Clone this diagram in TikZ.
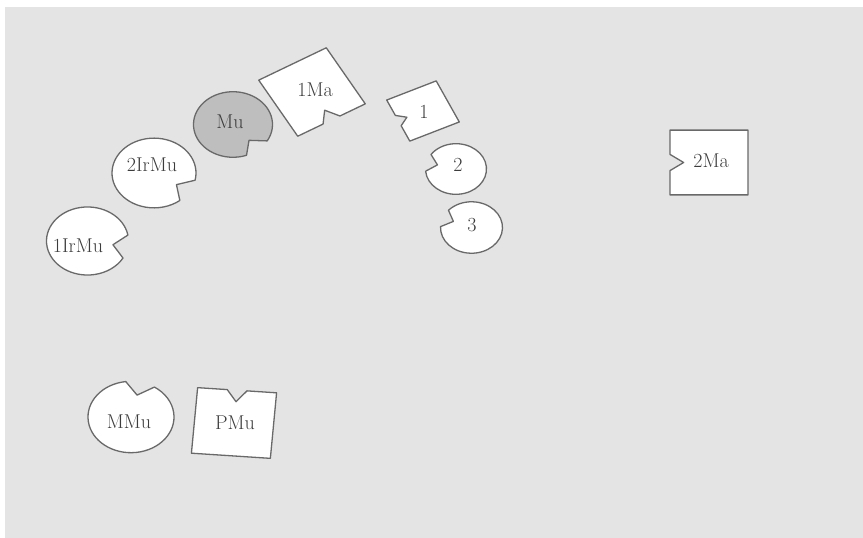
\documentclass[tikz,border=0pt]{standalone}
\usepackage{fontspec}
\definecolor{bggray}{RGB}{228,228,228}
\definecolor{mugray}{RGB}{190,190,190}
\definecolor{edgegray}{RGB}{105,105,105}
\definecolor{labelgray}{RGB}{60,60,60}
\tikzset{
  piece/.style={draw=edgegray, line width=1.3pt, fill=white, line join=round},
  tag/.style={text=labelgray, font=\fontsize{20}{22}\selectfont, inner sep=0pt},
  disc/.pic={\draw[piece] (20:1) arc[start angle=20, end angle=340, radius=1] -- (0.63,0) -- cycle;},
  tile/.pic={\draw[piece] (1,1) -- (-1,1) -- (-1,-1) -- (1,-1) -- (1,-0.25) -- (0.65,0) -- (1,0.25) -- cycle;},
}
\begin{document}
\begin{tikzpicture}[x=1pt, y=1pt]
\useasboundingbox (0,0) rectangle (863,-538);
\fill[bggray] (5,-7) rectangle (863,-538);
% notched discs
\pic[yscale=0.83, rotate=-50, scale=39.5, piece/.append style={fill=mugray}] at (233,-124.5) {disc};
\pic[yscale=0.83, rotate=-32, scale=42] at (154,-173) {disc};
\pic[yscale=0.83, rotate=-10, scale=41] at (87.5,-241) {disc};
\pic[yscale=0.83, rotate=165, scale=30.5] at (456,-169) {disc};
\pic[yscale=0.83, rotate=158, scale=31] at (471.5,-227.5) {disc};
\pic[yscale=0.83, rotate=77, scale=43] at (131,-417) {disc};
% notched tiles
\pic[yscale=0.83, rotate=-60, scale=39] at (312,-92) {tile};
\pic[yscale=0.83, rotate=205, scale=27.3] at (423,-111) {tile};
\pic[yscale=0.83, rotate=180, scale=39] at (709,-162.5) {tile};
\pic[yscale=0.83, rotate=85.5, scale=39.6] at (234,-423) {tile};
% labels
\node[tag] (mu) at (230,-122) {Mu};
\node[tag] (irmu2) at (152,-165) {2IrMu};
\node[tag] (irmu1) at (78,-246) {1IrMu};
\node[tag] (d2) at (458,-165) {2};
\node[tag] (d3) at (472,-225) {3};
\node[tag] (mmu) at (129,-422) {MMu};
\node[tag] (ma1) at (315,-90) {1Ma};
\node[tag] (t1) at (424,-112) {1};
\node[tag] (ma2) at (711,-161) {2Ma};
\node[tag] (pmu) at (235,-423) {PMu};
\end{tikzpicture}
\end{document}
